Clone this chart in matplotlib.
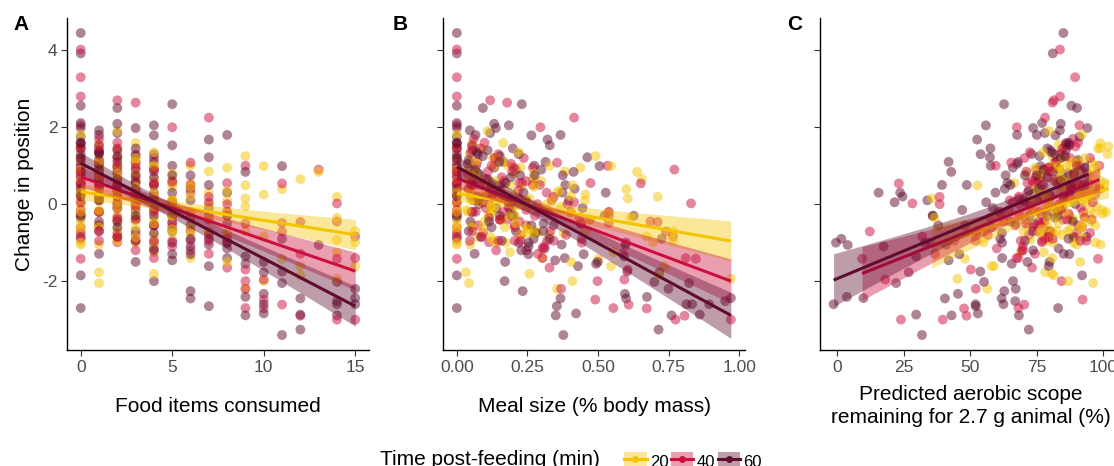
import numpy as np
import matplotlib
matplotlib.use("Agg")
import matplotlib.pyplot as plt
from matplotlib.patches import Patch
from matplotlib.lines import Line2D
from matplotlib.legend_handler import HandlerTuple

plt.rcParams['font.family'] = ['Liberation Sans', 'DejaVu Sans']

# ---- data ----
times = [20, 40, 60]
colors = {20: "#F5C400", 40: "#CB0F3E", 60: "#5E0B2F"}

# 60 min post-feeding
food_60 = ([0]*15 + [1]*11 + [2]*10 + [3]*9 + [4]*10 + [5]*8 + [6]*6 + [7]*7 + [8]*5
           + [9]*5 + [10]*5 + [11]*5 + [12]*3 + [13]*1 + [14]*4 + [15]*3
           + [0]*8 + [1]*7 + [2]*7 + [3]*6 + [4]*6 + [5]*4 + [6]*3 + [7]*2 + [8]*2)
change_60 = [4.45, 3.92, 2.56, 2.11, 1.98, 1.59, 1.30, 1.10, 0.85, 0.55, 0.20, -0.30, -0.85, -1.85, -2.70,
             1.92, 1.80, 1.55, 1.30, 1.05, 0.80, 0.50, 0.20, -0.20, -0.70, -1.29,
             2.50, 2.09, 1.40, 1.10, 0.80, 0.50, 0.20, -0.10, -0.45, -0.85,
             1.98, 1.45, 1.10, 0.75, 0.40, 0.05, -0.30, -0.70, -1.50,
             2.05, 1.79, 1.30, 0.90, 0.50, 0.10, -0.30, -0.75, -1.20, -2.00,
             2.60, 1.53, 1.00, 0.30, -0.30, -0.70, -1.30, -1.46,
             0.75, 0.10, -0.90, -1.30, -2.26, -2.45,
             1.68, 1.22, 0.50, -0.30, -0.90, -1.61, -2.65,
             1.80, 0.30, -0.50, -1.00, -1.15,
             0.84, -1.36, -1.55, -2.41, -2.89,
             -1.50, -1.77, -2.33, -2.60, -2.84,
             0.99, -0.90, -1.75, -2.05, -3.40,
             -2.45, -2.87, -3.26,
             -1.06,
             -2.02, -2.52, -2.60, -2.89,
             -2.20, -2.44, -2.60,
             1.60, 1.75, 1.45, 1.20, 0.95, 0.70, 0.40, -0.35,
             1.35, 1.40, 1.15, 0.90, 0.60, 0.10, -0.45,
             1.85, 1.25, 0.95, 0.65, 0.35, 0.00, -0.60,
             1.25, 0.90, 0.55, 0.20, -0.15, -0.95,
             1.10, 0.70, 0.30, -0.10, -0.55, -1.00,
             0.75, 0.05, -0.50, -1.00,
             0.40, -0.55, -1.10,
             -0.10, -1.05,
             -0.30, -1.40]
meal_60 = ([0.0]*15
           + [0.046, 0.066, 0.055, 0.075, 0.039, 0.062, 0.051, 0.070, 0.057, 0.042, 0.063]
           + [0.092, 0.132, 0.109, 0.150, 0.077, 0.122, 0.101, 0.139, 0.114, 0.085]
           + [0.138, 0.198, 0.165, 0.224, 0.117, 0.184, 0.152, 0.209, 0.171]
           + [0.184, 0.264, 0.219, 0.299, 0.155, 0.245, 0.202, 0.278, 0.228, 0.169]
           + [0.230, 0.329, 0.274, 0.374, 0.194, 0.306, 0.253, 0.348]
           + [0.276, 0.396, 0.328, 0.449, 0.233, 0.367]
           + [0.321, 0.462, 0.384, 0.523, 0.272, 0.429, 0.354]
           + [0.367, 0.527, 0.438, 0.598, 0.311]
           + [0.413, 0.593, 0.493, 0.673, 0.350]
           + [0.499, 0.717, 0.595, 0.813, 0.422]
           + [0.505, 0.725, 0.603, 0.822, 0.377]
           + [0.599, 0.860, 0.714]
           + [0.597]
           + [0.699, 0.950, 0.833, 0.760]
           + [0.749, 0.970, 0.893]
           + [0.0]*8
           + [0.070, 0.057, 0.042, 0.064, 0.053, 0.078, 0.048]
           + [0.118, 0.092, 0.132, 0.110, 0.150, 0.078, 0.123]
           + [0.152, 0.209, 0.172, 0.127, 0.191, 0.159]
           + [0.314, 0.191, 0.236, 0.184, 0.264, 0.219]
           + [0.375, 0.195, 0.307, 0.254]
           + [0.417, 0.342, 0.254]
           + [0.445, 0.371]
           + [0.626, 0.382])
scope_60 = [85.0, 81.0, 88.0, 77.0, 94.0, 86.0, 73.0, 90.0, 81.0, 94.4, 85.0, 79.0, 89.0, 92.0, 83.0,
            83.7, 75.0, 87.2, 81.8, 67.6, 89.0, 76.8, 87.4, 82.6, 73.5, 85.1,
            90.1, 84.0, 80.1, 41.9, 86.8, 48.7, 24.6, 82.1, 65.1, 93.7,
            73.6, 57.6, 82.2, 75.0, 75.8, 21.6, 61.3, 78.9, 79.8,
            55.9, 82.0, 53.9, 78.0, 39.4, 75.2, 72.3, 61.9, 73.6, 66.1,
            62.7, 87.2, 57.7, 15.6, 83.0, 52.5, 87.2, 41.9,
            63.3, 33.9, 86.9, 45.9, 62.8, 61.8,
            52.6, 57.4, 65.1, 35.9, 61.3, 79.5, 52.1,
            67.6, 23.7, 67.1, -0.4, 83.2,
            42.9, 29.7, 65.6, 3.7, 68.3,
            71.5, 26.9, 45.4, 52.0, 52.9,
            76.4, 1.6, 53.8, 22.2, 31.9,
            40.5, 29.7, 72.0,
            4.0,
            55.2, 66.9, -1.3, 43.0,
            67.1, 9.9, 62.5,
            87.0, 91.0, 79.0, 84.0, 93.0, 76.0, 88.0, 82.0,
            80.5, 86.0, 90.5, 77.5, 84.0, 70.0, 88.5,
            78.0, 85.5, 66.0, 82.5, 72.0, 89.5, 58.0,
            76.0, 83.5, 64.0, 80.0, 47.0, 70.5,
            68.0, 79.0, 59.5, 84.5, 38.0, 62.0,
            70.5, 56.0, 74.0, 33.0,
            63.0, 48.0, 17.5,
            58.5, 41.0,
            36.0, 62.0]

# 40 min post-feeding
food_40 = ([0]*13 + [1]*9 + [2]*10 + [3]*9 + [4]*8 + [5]*6 + [6]*5 + [7]*5 + [8]*5
           + [9]*6 + [10]*3 + [11]*4 + [12]*3 + [13]*1 + [14]*4 + [15]*3
           + [0]*8 + [1]*7 + [2]*7 + [3]*6 + [4]*6 + [5]*4 + [6]*3 + [7]*2 + [8]*2)
change_40 = [4.02, 3.30, 2.80, 1.45, 1.00, 0.75, 0.50, 0.30, 0.05, -0.25, -0.60, -0.90, -1.42,
             1.70, 1.35, 1.00, 0.70, 0.40, 0.10, -0.20, -0.55, -0.95,
             2.70, 1.60, 1.20, 0.85, 0.50, 0.20, -0.10, -0.40, -0.75, -0.99,
             2.64, 1.30, 0.95, 0.60, 0.25, -0.05, -0.40, -0.80, -1.20,
             1.20, 0.85, 0.50, 0.15, -0.20, -0.55, -0.95, -1.40,
             2.00, 0.60, 0.10, -0.30, -0.60, -1.10,
             1.08, 0.50, -0.20, -0.70, -1.20,
             2.25, 0.19, -0.40, -0.80, -1.29,
             0.55, 0.00, -0.30, -0.90, -1.65,
             1.00, -0.50, -1.70, -2.00, -2.20, -2.70,
             -1.96, -2.48, -2.71,
             0.54, -0.49, -0.71, -2.61,
             -0.46, -1.29, -2.90,
             0.90,
             0.02, -0.45, -1.42, -3.00,
             -0.84, -1.40, -3.00,
             2.05, 1.55, 1.20, 0.85, 0.55, 0.25, -0.15, -0.75,
             1.50, 1.10, 0.80, 0.50, 0.20, -0.20, -0.70,
             1.45, 1.00, 0.65, 0.35, 0.05, -0.35, -0.85,
             1.05, 0.70, 0.35, 0.00, -0.40, -0.95,
             0.95, 0.55, 0.20, -0.15, -0.55, -1.15,
             0.55, 0.00, -0.45, -0.95,
             0.30, -0.35, -0.95,
             0.05, -0.95,
             -0.20, -1.00]
meal_40 = ([0.0]*13
           + [0.060, 0.049, 0.068, 0.055, 0.041, 0.061, 0.052, 0.076, 0.046]
           + [0.118, 0.098, 0.134, 0.110, 0.082, 0.123, 0.102, 0.151, 0.093, 0.114]
           + [0.178, 0.147, 0.202, 0.166, 0.123, 0.184, 0.154, 0.227, 0.139]
           + [0.237, 0.196, 0.269, 0.221, 0.164, 0.246, 0.205, 0.303]
           + [0.296, 0.245, 0.336, 0.276, 0.205, 0.308]
           + [0.355, 0.294, 0.403, 0.331, 0.246]
           + [0.415, 0.343, 0.471, 0.387, 0.287]
           + [0.473, 0.392, 0.538, 0.442, 0.328]
           + [0.533, 0.441, 0.605, 0.498, 0.369, 0.554]
           + [0.593, 0.490, 0.672]
           + [0.651, 0.538, 0.740, 0.608]
           + [0.711, 0.587, 0.806]
           + [0.770]
           + [0.829, 0.685, 0.846, 0.774]
           + [0.765, 0.810, 0.970]
           + [0.0]*8
           + [0.053, 0.072, 0.038, 0.059, 0.049, 0.067, 0.055]
           + [0.082, 0.123, 0.103, 0.152, 0.092, 0.114, 0.089]
           + [0.192, 0.159, 0.217, 0.113, 0.178, 0.147]
           + [0.269, 0.221, 0.164, 0.246, 0.205, 0.303]
           + [0.231, 0.285, 0.222, 0.319]
           + [0.318, 0.434, 0.226]
           + [0.415, 0.343]
           + [0.538, 0.442])
scope_40 = [83.7, 89.4, 83.7, 85.0, 98.5, 89.0, 83.0, 93.0, 96.0, 87.0, 92.0, 81.0, 98.0,
            88.6, 72.4, 91.1, 79.1, 98.5, 85.1, 78.7, 90.6, 91.4,
            81.4, 90.5, 70.4, 91.9, 87.7, 68.3, 91.6, 70.7, 95.0, 76.9,
            80.9, 83.8, 79.3, 81.8, 79.9, 72.3, 95.6, 72.1, 69.4,
            87.5, 71.1, 92.7, 68.2, 75.9, 66.9, 93.6, 68.0,
            67.5, 73.3, 64.9, 77.0, 73.8, 69.8,
            65.4, 90.9, 60.5, 75.2, 69.8,
            78.1, 38.5, 86.4, 56.6, 74.3,
            75.1, 38.5, 68.6, 78.0, 73.2,
            59.6, 70.9, 50.2, 84.3, 52.1, 68.1,
            18.1, 92.2, 47.7,
            23.2, 77.1, 12.3, 70.3,
            77.8, 36.8, 48.6,
            74.8,
            28.3, 75.8, 9.4, 24.0,
            32.0, 67.4, 39.7,
            91.0, 86.0, 95.0, 80.0, 88.0, 97.0, 84.0, 90.0,
            89.5, 82.0, 94.0, 77.5, 86.5, 92.5, 80.0,
            84.5, 90.0, 76.0, 87.5, 71.0, 93.0, 79.5,
            82.0, 74.5, 88.0, 68.5, 85.0, 77.0,
            79.5, 71.5, 86.0, 64.5, 76.0, 60.0,
            74.0, 83.5, 62.5, 69.0,
            71.5, 57.5, 44.0,
            66.0, 52.0,
            61.5, 35.0]

# 20 min post-feeding
food_20 = ([0]*12 + [1]*13 + [2]*9 + [3]*8 + [4]*9 + [5]*5 + [6]*5 + [7]*4 + [8]*5
           + [9]*6 + [10]*4 + [11]*2 + [12]*3 + [13]*1 + [14]*5 + [15]*3
           + [0]*8 + [1]*7 + [2]*7 + [3]*6 + [4]*6 + [5]*4 + [6]*3 + [7]*2 + [8]*2)
change_20 = [1.50, 1.81, 1.20, 0.90, 0.60, 0.40, 0.20, 0.00, -0.20, -0.45, -0.70, -1.00,
             1.55, 1.30, 1.10, 0.90, 0.75, 0.60, 0.45, 0.30, 0.15, -0.15, -0.60, -1.77, -2.05,
             1.90, 1.45, 1.00, 0.65, 0.35, 0.05, -0.30, -0.65, -0.95,
             1.59, 1.20, 0.80, 0.45, 0.10, -0.25, -0.60, -1.00,
             1.35, 1.00, 0.65, 0.30, -0.05, -0.40, -0.80, -1.25, -1.81,
             0.80, 0.45, 0.10, -0.30, -0.65,
             1.00, 0.55, 0.20, -0.60, -1.40,
             0.85, 0.00, -0.40, -0.73,
             0.95, 0.35, -0.20, -0.80, -1.50,
             1.25, 0.49, 0.15, -0.06, -0.70, -2.20,
             0.99, 0.25, -0.84, -2.00,
             0.39, -1.42,
             0.65, -1.61, -1.85,
             0.84,
             0.19, -0.35, -0.93, -1.25, -1.94,
             -0.70, -0.99, -1.61,
             1.45, 0.85, 0.55, 0.30, 0.05, -0.25, -0.60, -1.05,
             1.10, 0.70, 0.40, 0.10, -0.20, -0.55, -1.05,
             1.20, 0.80, 0.50, 0.20, -0.10, -0.45, -0.85,
             1.10, 0.60, 0.25, -0.05, -0.40, -0.85,
             0.95, 0.50, 0.15, -0.15, -0.50, -1.00,
             0.60, 0.10, -0.30, -0.75,
             0.45, -0.20, -0.75,
             0.30, -0.70,
             0.10, -0.75]
meal_20 = ([0.0]*12
           + [0.055, 0.046, 0.067, 0.041, 0.051, 0.040, 0.057, 0.047, 0.064, 0.033, 0.053, 0.032, 0.043]
           + [0.109, 0.091, 0.134, 0.082, 0.101, 0.079, 0.113, 0.094, 0.129]
           + [0.164, 0.137, 0.201, 0.123, 0.152, 0.119, 0.170, 0.141]
           + [0.218, 0.182, 0.269, 0.164, 0.202, 0.158, 0.227, 0.188, 0.257]
           + [0.273, 0.228, 0.337, 0.205, 0.253]
           + [0.328, 0.273, 0.404, 0.246, 0.303]
           + [0.382, 0.318, 0.471, 0.287]
           + [0.437, 0.364, 0.538, 0.328, 0.404]
           + [0.491, 0.409, 0.605, 0.369, 0.455, 0.355]
           + [0.546, 0.455, 0.672, 0.409]
           + [0.600, 0.501]
           + [0.655, 0.546, 0.716]
           + [0.638]
           + [0.711, 0.616, 0.766, 0.553, 0.970]
           + [0.766, 0.695, 0.735]
           + [0.0]*8
           + [0.046, 0.068, 0.041, 0.051, 0.040, 0.057, 0.047]
           + [0.128, 0.067, 0.105, 0.087, 0.119, 0.098, 0.073]
           + [0.164, 0.137, 0.202, 0.123, 0.152, 0.119]
           + [0.226, 0.188, 0.257, 0.133, 0.210, 0.174]
           + [0.299, 0.245, 0.182, 0.273]
           + [0.274, 0.404, 0.246]
           + [0.354, 0.276]
           + [0.454, 0.377])
scope_20 = [101.9, 92.0, 86.0, 96.0, 99.0, 90.0, 95.0, 84.0, 101.0, 93.0, 80.0, 97.0,
            83.3, 101.6, 88.6, 83.3, 94.7, 95.9, 87.8, 94.4, 79.9, 99.5, 91.8, 78.2, 96.2,
            79.7, 98.8, 80.5, 85.2, 90.9, 93.7, 87.1, 87.6, 79.1,
            98.9, 84.3, 71.1, 94.3, 79.4, 99.7, 79.1, 81.1,
            77.4, 97.3, 76.4, 84.1, 78.9, 88.5, 84.4, 77.6, 80.7,
            75.9, 97.0, 72.8, 82.1, 76.8,
            87.6, 66.6, 91.2, 71.6, 80.8,
            83.3, 84.4, 79.1, 54.8,
            74.3, 75.9, 74.1, 77.3, 91.3,
            80.8, 52.7, 35.6, 97.5, 70.0, 56.4,
            83.2, 76.5, 52.0, 86.8,
            73.8, 48.0,
            84.5, 58.9, 81.4,
            78.0,
            76.2, 36.6, 72.7, 69.0, 45.2,
            82.6, 55.0, 58.1,
            98.0, 90.0, 100.5, 94.0, 87.0, 96.5, 91.5, 99.0,
            95.5, 88.0, 99.0, 92.5, 85.5, 97.0, 90.0,
            93.0, 97.5, 86.5, 91.0, 82.5, 95.5, 88.5,
            90.5, 84.0, 94.5, 80.0, 88.5, 92.0,
            86.0, 91.5, 78.5, 95.0, 83.0, 89.0,
            82.5, 88.5, 92.5, 76.0,
            85.0, 74.0, 80.5,
            79.0, 86.5,
            72.5, 81.0]

groups = {
    20: dict(food=food_20, meal=meal_20, scope=scope_20, change=change_20),
    40: dict(food=food_40, meal=meal_40, scope=scope_40, change=change_40),
    60: dict(food=food_60, meal=meal_60, scope=scope_60, change=change_60),
}

panels = [
    ("A", "food", "Food items consumed", [0, 5, 10, 15], ["0", "5", "10", "15"], (-0.75, 15.75)),
    ("B", "meal", "Meal size (% body mass)", [0, 0.25, 0.5, 0.75, 1.0],
     ["0.00", "0.25", "0.50", "0.75", "1.00"], (-0.049, 1.02)),
    ("C", "scope", "Predicted aerobic scope\nremaining for 2.7 g animal (%)", [0, 25, 50, 75, 100],
     ["0", "25", "50", "75", "100"], (-6.4, 107.0)),
]


def lm_band(x, y, n_grid=80):
    x = np.asarray(x, float)
    y = np.asarray(y, float)
    b1, b0 = np.polyfit(x, y, 1)
    n = len(x)
    resid = y - (b0 + b1 * x)
    s = np.sqrt(np.sum(resid ** 2) / (n - 2))
    sxx = np.sum((x - x.mean()) ** 2)
    xs = np.linspace(x.min(), x.max(), n_grid)
    fit = b0 + b1 * xs
    se = s * np.sqrt(1.0 / n + (xs - x.mean()) ** 2 / sxx)
    return xs, fit, fit - 1.98 * se, fit + 1.98 * se


W, H = 1114, 466
fig = plt.figure(figsize=(W / 100, H / 100), dpi=100)

lefts = [67, 443, 820]
ax_w = 302
ax_bottom = (H - 350) / H
ax_h = 332 / H

tick_col = "#4D4D4D"
for i, (letter, key, xlabel, xt, xtl, xlim) in enumerate(panels):
    ax = fig.add_axes([lefts[i] / W, ax_bottom, ax_w / W, ax_h])

    # points, interleaved across groups like a single data frame
    xs_all, ys_all, cs_all = [], [], []
    for t in times:
        g = groups[t]
        xs_all += list(g[key])
        ys_all += list(g["change"])
        cs_all += [colors[t]] * len(g["change"])
    order = np.argsort((np.arange(len(xs_all)) * 0.6180339887) % 1.0)
    ax.scatter(np.array(xs_all)[order], np.array(ys_all)[order], s=50,
               c=np.array(cs_all)[order], alpha=0.5, linewidths=0, zorder=2)

    for t in times:
        g = groups[t]
        xs, fit, lo, hi = lm_band(g[key], g["change"])
        ax.fill_between(xs, lo, hi, color=colors[t], alpha=0.4, linewidth=0, zorder=3)
        ax.plot(xs, fit, color=colors[t], lw=2.2, zorder=3, solid_capstyle="butt")

    ax.set_xlim(*xlim)
    ax.set_ylim(-3.79, 4.84)
    ax.set_xticks(xt)
    ax.set_xticklabels(xtl)
    ax.set_yticks([-2, 0, 2, 4])
    ax.set_yticklabels(["-2", "0", "2", "4"])
    for side in ["top", "right"]:
        ax.spines[side].set_visible(False)
    for side in ["left", "bottom"]:
        ax.spines[side].set_linewidth(1.0)
        ax.spines[side].set_color("black")
    ax.tick_params(length=4, width=0.8, color="#333333", labelsize=12.5,
                   labelcolor=tick_col, pad=3)
    if i > 0:
        ax.tick_params(axis="y", labelleft=False)

    cx = (lefts[i] + ax_w / 2) / W
    fig.text(cx, 1 - 406 / H, xlabel, ha="center", va="center", fontsize=15,
             linespacing=1.25)

fig.text(13 / W, 1 - 15 / H, "A", fontsize=15, fontweight="bold", ha="left", va="top")
fig.text(393 / W, 1 - 15 / H, "B", fontsize=15, fontweight="bold", ha="left", va="top")
fig.text(787 / W, 1 - 15 / H, "C", fontsize=15, fontweight="bold", ha="left", va="top")

fig.text(25 / W, 1 - 184 / H, "Change in position", rotation=90, ha="center",
         va="center", fontsize=15)

# legend
fig.text(380 / W, 1 - 465 / H, "Time post-feeding (min)", fontsize=15, ha="left",
         va="baseline")
handles = []
for t in times:
    handles.append((Patch(facecolor=colors[t], alpha=0.4, linewidth=0),
                    Line2D([], [], color=colors[t], lw=2.2, marker="o", markersize=5,
                           markeredgewidth=0)))
fig.legend(handles, [str(t) for t in times], loc="upper left",
           bbox_to_anchor=(624 / W, 1 - 452 / H), ncol=3, frameon=False,
           fontsize=12, handlelength=1.35, handleheight=1.35, handletextpad=0.2,
           columnspacing=0.15, borderpad=0, borderaxespad=0,
           handler_map={tuple: HandlerTuple(ndivide=1)})

fig.savefig("out.png", dpi=100)
